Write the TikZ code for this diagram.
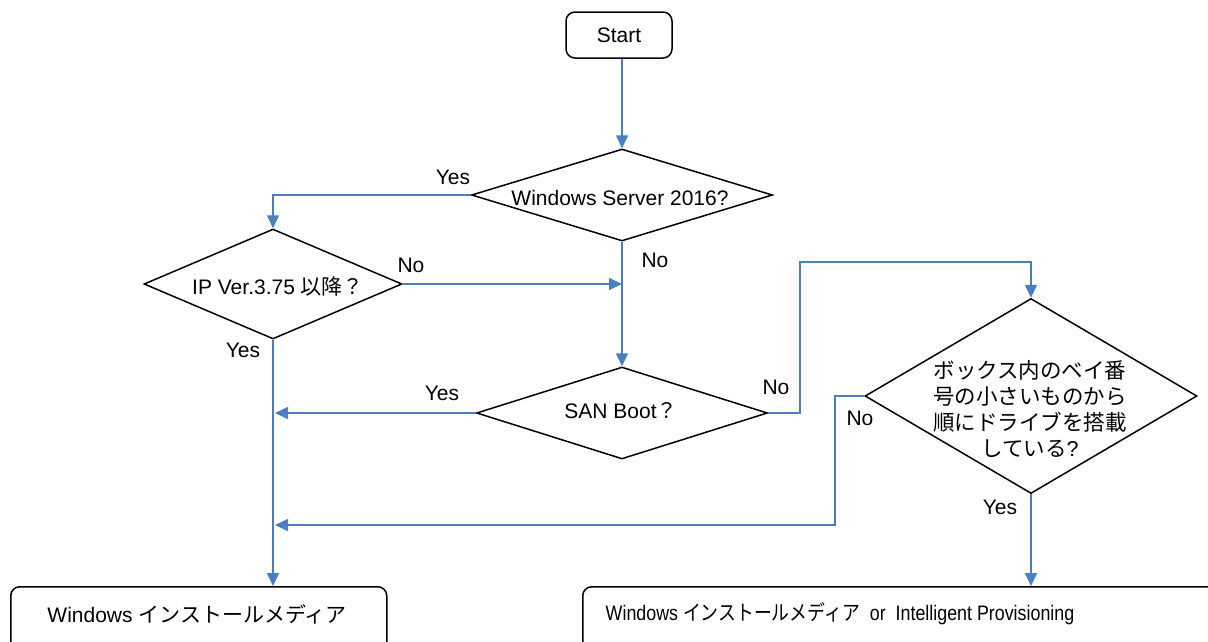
\documentclass[tikz,border=0pt]{standalone}
\usepackage{fontspec}
\setmainfont{Liberation Sans}
\newfontfamily\jp{Noto Sans CJK JP}
\usetikzlibrary{shapes.geometric,arrows.meta}
\definecolor{flow}{RGB}{74,126,193}
\tikzset{
  txt/.style={font=\fontsize{21}{25}\selectfont, inner sep=0pt},
  dia/.style={draw=black, line width=1.5pt, diamond, inner sep=0pt},
  box/.style={draw=black, line width=1.5pt, rectangle, rounded corners=9pt, inner sep=0pt},
  conn/.style={draw=flow, line width=1.6pt},
  arr/.style={conn, -{Triangle[length=13pt,width=12pt]}},
}
\begin{document}
\begin{tikzpicture}[x=1pt,y=-1pt]
\useasboundingbox (0,0) rectangle (1208,641);
\clip (0,0) rectangle (1208,641);
% nodes
\node[box, minimum width=106pt, minimum height=46pt] (start) at (619,35) {};
\node[txt] (tstart) at (619,35) {Start};
\node[dia, minimum width=301pt, minimum height=92pt] (d1) at (622,195) {};
\node[txt] (td1) at (620,198) {Windows Server 2016?};
\node[dia, minimum width=258pt, minimum height=110pt] (d2) at (273,284) {};
\node[txt] (td2) at (278,287) {IP Ver.3.75 {\jp 以降？}};
\node[dia, minimum width=291pt, minimum height=92pt] (d3) at (622,413) {};
\node[txt] (td3) at (621,411) {SAN Boot{\jp ？}};
\node[dia, minimum width=332pt, minimum height=195pt] (d4) at (1031,396) {};
\node[txt, align=center, font=\fontsize{21.5}{26}\selectfont\jp] (td4) at (1030,409)
  {ボックス内のベイ番\\号の小さいものから\\順にドライブを搭載\\している{\rmfamily ?}};
\node[box, minimum width=376pt, minimum height=74pt, anchor=north west] (b1) at (10,586) {};
\node[txt] (tb1) at (197,614) {Windows {\jp インストールメディア}};
\node[box, minimum width=660pt, minimum height=74pt, anchor=north west] (b2) at (582,586) {};
\node[txt] (tb2) at (840,614) {\scalebox{0.85}[1]{Windows {\jp インストールメディア}\ \ or\ \ Intelligent Provisioning}};
% helper coordinates
\coordinate (n1) at (800,262);
\coordinate (n2) at (835,525);
% connectors
\draw[arr] (d1.north |- start.south) -- (d1.north);
\draw[arr] (d1.west) -| (d2.north);
\draw[arr] (d2.east) -- (d2.east -| d1.south);
\draw[arr] (d1.south) -- (d3.north);
\draw[arr] (d3.west) -- ([xshift=2pt]d3.west -| d2.south);
\draw[arr] (d2.south) -- (d2.south |- b1.north);
\draw[arr] (d3.east) -| (n1) -| (d4.north);
\draw[arr] (d4.west) -| (n2) -- ([xshift=2pt]n2 -| d2.south);
\draw[arr] (d4.south) -- (d4.south |- b2.north);
% labels
\node[txt] (l1) at (453,177) {Yes};
\node[txt] (l2) at (411,265) {No};
\node[txt] (l3) at (655,260) {No};
\node[txt] (l4) at (442,393) {Yes};
\node[txt] (l5) at (243,350) {Yes};
\node[txt] (l6) at (776,387) {No};
\node[txt] (l7) at (860,418) {No};
\node[txt] (l8) at (1000,507) {Yes};
\end{tikzpicture}
\end{document}
